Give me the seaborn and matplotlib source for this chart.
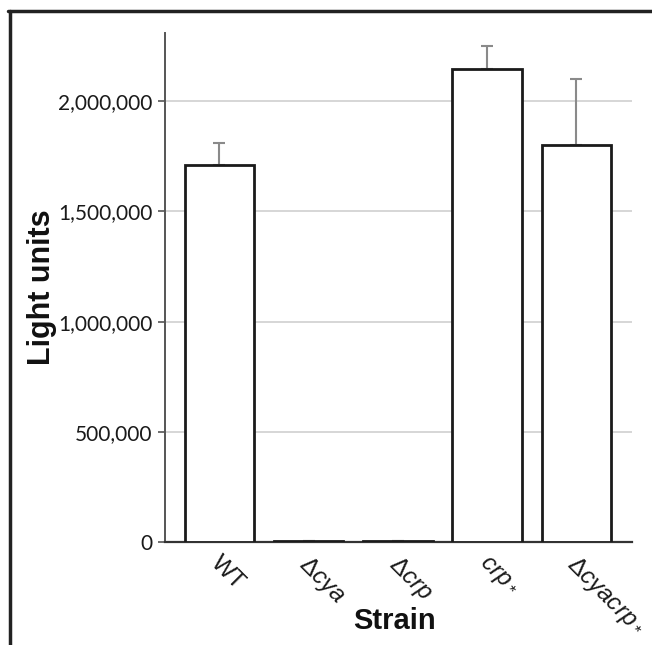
import matplotlib
matplotlib.use("Agg")
import matplotlib.pyplot as plt
import matplotlib.transforms as mtransforms
import seaborn as sns
import pandas as pd
from matplotlib.lines import Line2D
from matplotlib.ticker import FuncFormatter

strains = ["WT", "Δcya", "Δcrp", "crp*", "Δcyacrp*"]
tick_labels = [r"WT", r"$\Delta\mathit{cya}$", r"$\Delta\mathit{crp}$",
               r"$\mathit{crp}\,_{*}$", r"$\Delta\mathit{cyacrp}\,_{*}$"]
light_units = [1710000, 4000, 4000, 2145000, 1800000]
error_up = [100000, 0, 0, 104000, 301000]
y_ticks = [0, 500000, 1000000, 1500000, 2000000]

sns.set_theme(style="white")
plt.rcParams["font.family"] = ["Lato", "DejaVu Sans"]
plt.rcParams["mathtext.fontset"] = "custom"
plt.rcParams["mathtext.rm"] = "Liberation Sans"
plt.rcParams["mathtext.it"] = "Liberation Sans:italic"

df = pd.DataFrame({"Strain": strains, "Light units": light_units})

fig = plt.figure(figsize=(6.52, 6.45), dpi=100)
ax = fig.add_axes([0.253, 0.1597, 0.716, 0.7891])

sns.barplot(data=df, x="Strain", y="Light units", order=strains, ax=ax,
            color="white", edgecolor="#1a1a1a", linewidth=2.0, width=0.78,
            errorbar=None, saturation=1, zorder=3)

ax.errorbar(range(len(strains)), light_units,
            yerr=[[0] * len(strains), error_up], fmt="none",
            ecolor="#8a8a8a", elinewidth=1.5, capsize=4, capthick=1.5, zorder=2)

ax.set_ylim(0, 2310000)
ax.set_xlim(-0.61, 4.62)
ax.set_yticks(y_ticks)
ax.yaxis.set_major_formatter(FuncFormatter(lambda v, p: f"{int(v):,}"))
for t in y_ticks[1:]:
    ax.axhline(t, color="#d0d0d0", linewidth=1.2, zorder=0)

ax.tick_params(axis="y", which="both", left=True, length=5, width=1.2,
               color="#555555", labelsize=15, pad=4, labelcolor="#1a1a1a")
ax.tick_params(axis="x", length=0, pad=7)
ax.set_xticks(range(len(strains)))
ax.set_xticklabels(tick_labels, rotation=-45, ha="left", rotation_mode="anchor",
                   fontsize=17.5, family="Liberation Sans", color="#1a1a1a")
offset = mtransforms.ScaledTranslation(3 / 100, 0, fig.dpi_scale_trans)
for lbl in ax.get_xticklabels():
    lbl.set_transform(lbl.get_transform() + offset)

for s in ["top", "right"]:
    ax.spines[s].set_visible(False)
ax.spines["left"].set_color("#555555")
ax.spines["left"].set_linewidth(1.4)
ax.spines["bottom"].set_color("#333333")
ax.spines["bottom"].set_linewidth(1.6)

ax.set_ylabel("Light units", fontsize=22, fontweight="bold",
              family="Liberation Sans", color="#111111")
ax.set_xlabel("Strain", fontsize=21, fontweight="bold",
              family="Liberation Sans", color="#111111")
ax.xaxis.set_label_coords(0.4925, -0.128)
ax.yaxis.set_label_coords(-0.231, 0.5)

# outer frame (top and left edges)
fig.add_artist(Line2D([8 / 652, 1.0], [1 - 11 / 645, 1 - 11 / 645],
                      transform=fig.transFigure, color="#222222", linewidth=2.5))
fig.add_artist(Line2D([10 / 652, 10 / 652], [0, 1 - 11 / 645],
                      transform=fig.transFigure, color="#222222", linewidth=2.5))

fig.savefig("out.png", dpi=100)
